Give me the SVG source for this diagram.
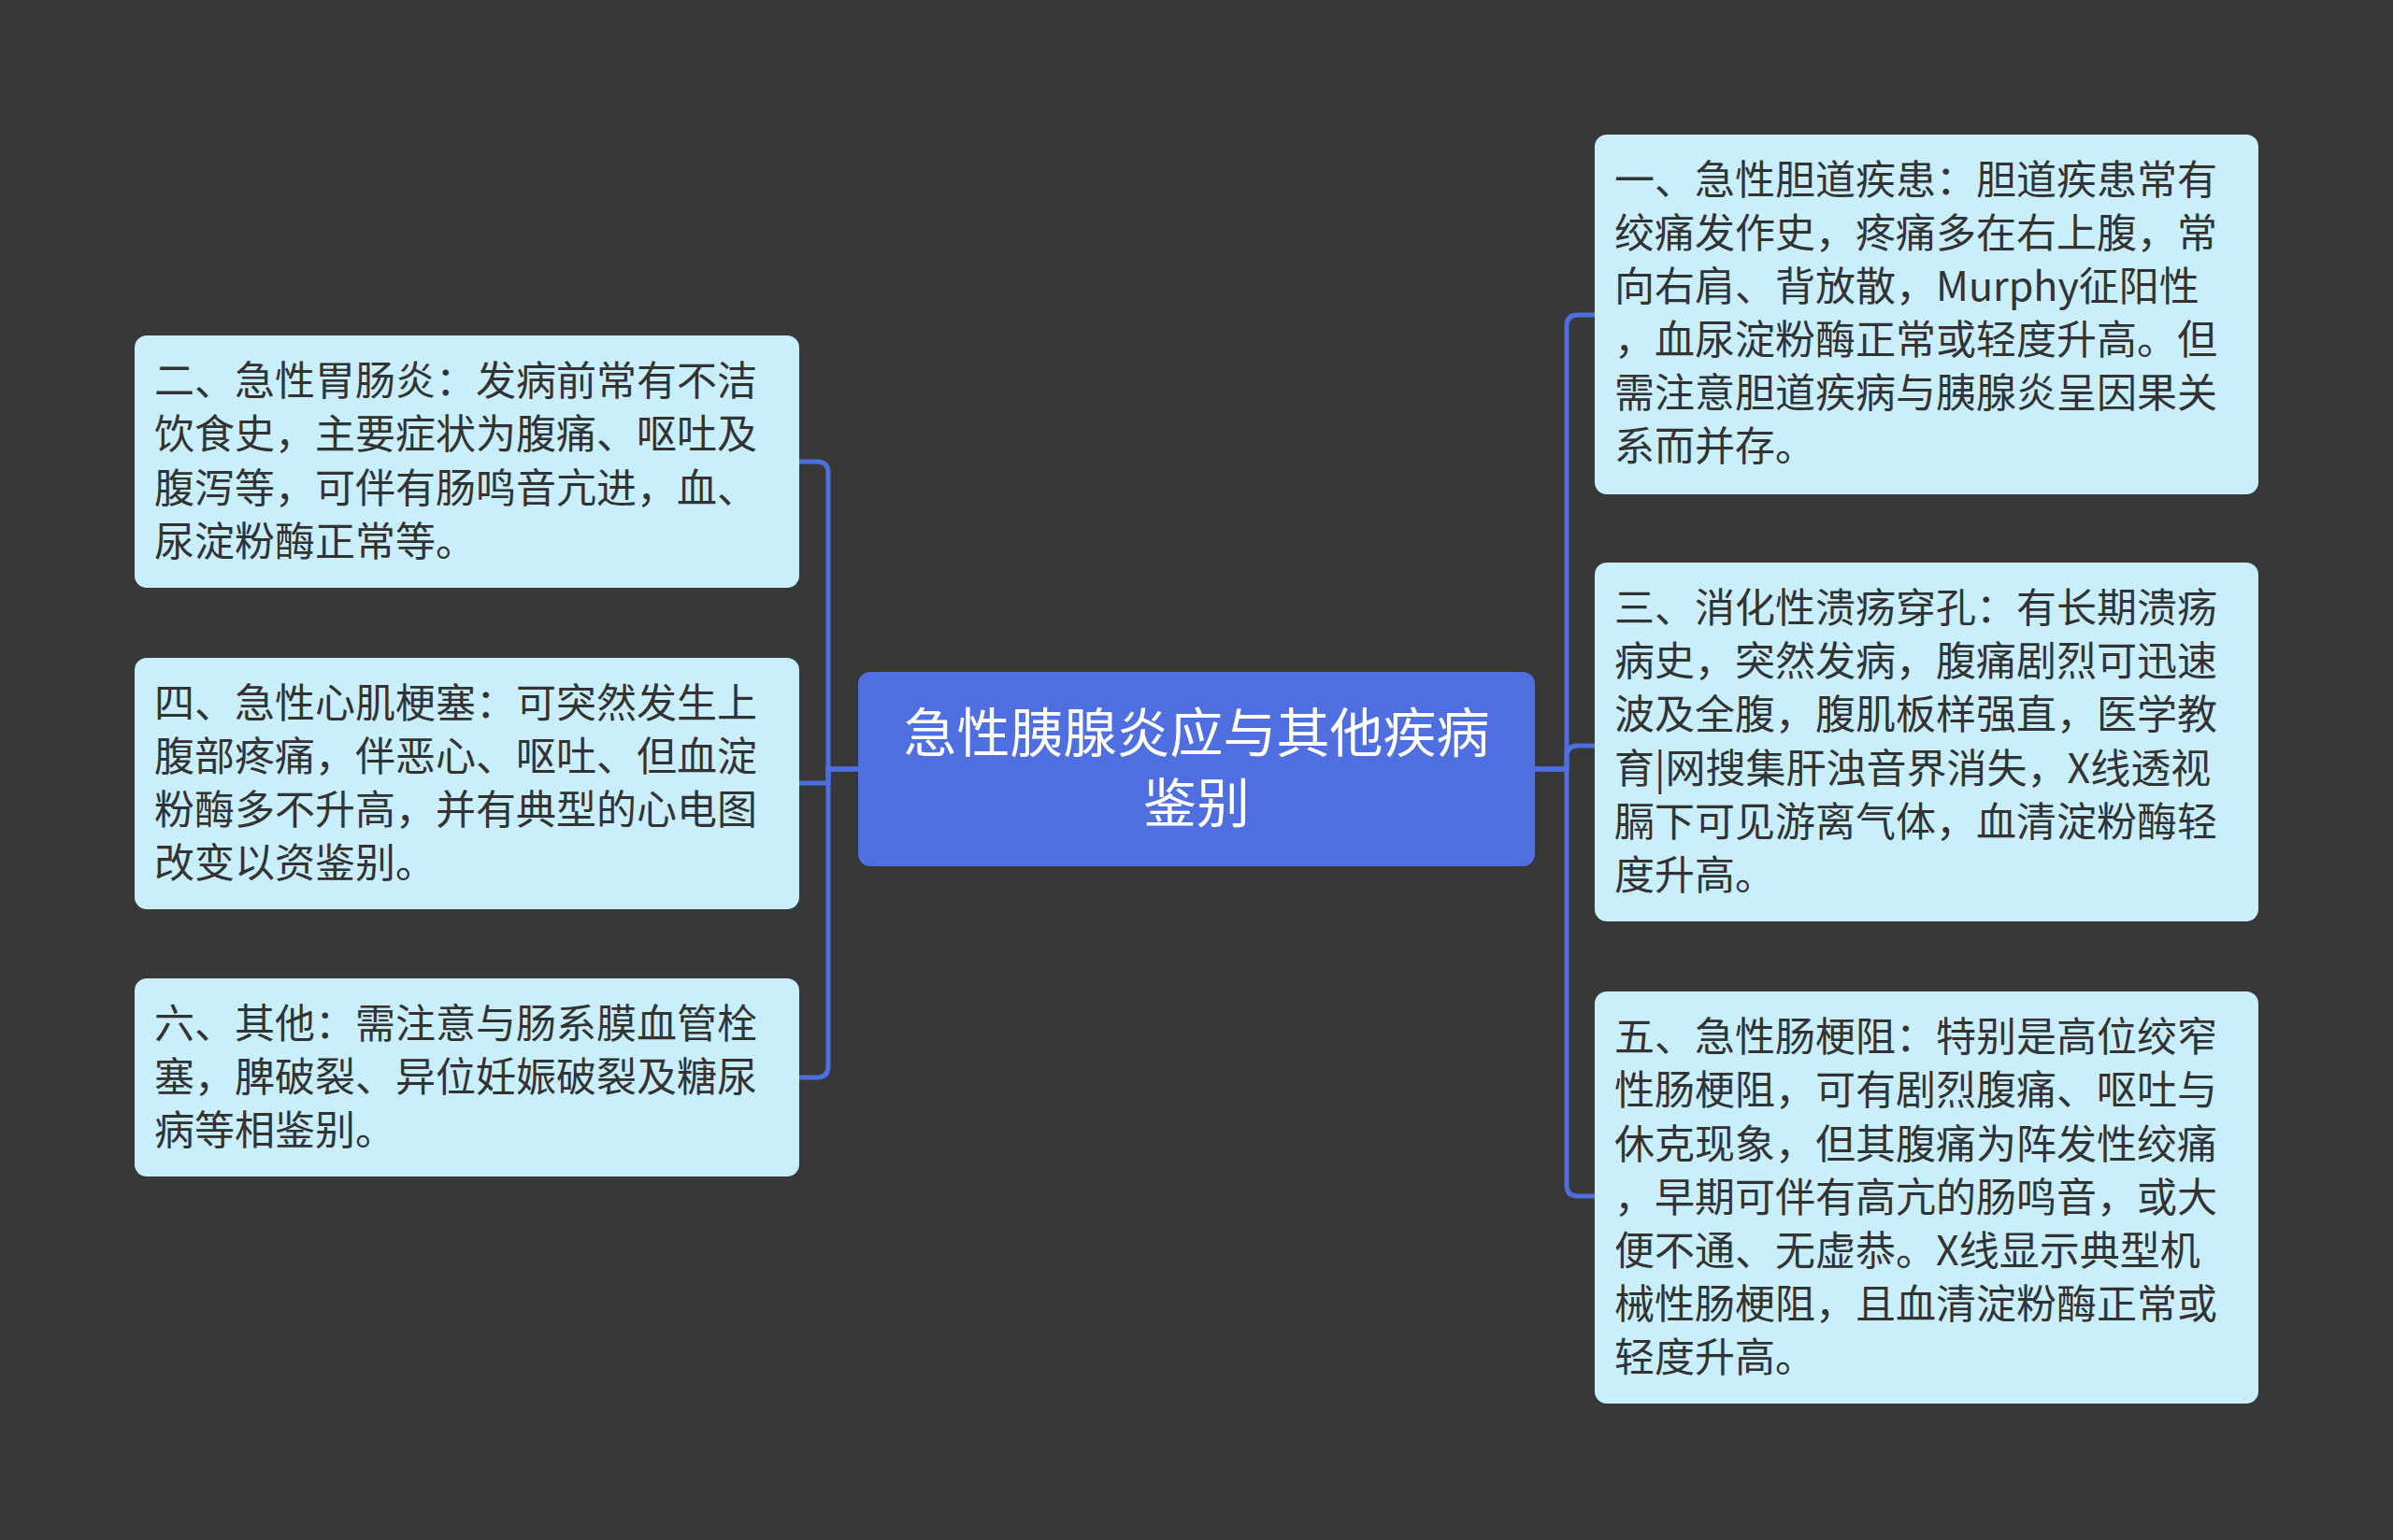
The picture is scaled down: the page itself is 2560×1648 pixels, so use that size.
<svg xmlns="http://www.w3.org/2000/svg" width="2560" height="1648" viewBox="0 0 2560 1648">
<style>
.bg{fill:#383838}
.node rect{fill:#c9eefc;stroke:none}
.node text{font-family:"Noto Sans CJK SC","Noto Sans",sans-serif;font-size:43px;fill:#333333}
.root rect{fill:#4f6fe0}
.root text{font-family:"Noto Sans CJK SC","Noto Sans",sans-serif;font-size:57px;fill:#ffffff;text-anchor:middle}
.conn path{fill:none;stroke:#4d6fe0;stroke-width:5}
</style>
<rect class="bg" x="0" y="0" width="2560" height="1648"/>
<g id="connectors" class="conn">
<path d="M918 823 H886 V506 Q886 494 874 494 H855"/>
<path d="M918 823 H886 V838 H855"/>
<path d="M918 823 H886 V1141 Q886 1153 874 1153 H855"/>
<path d="M1642 823 H1676 V349 Q1676 337 1688 337 H1708"/>
<path d="M1642 823 H1676 V810 Q1676 798 1688 798 H1708"/>
<path d="M1642 823 H1676 V1268 Q1676 1280 1688 1280 H1708"/>
</g>
<g id="root" class="root">
<rect x="918" y="719" width="724" height="208" rx="13"/>
<text x="1280" y="805">急性胰腺炎应与其他疾病</text>
<text x="1280" y="880">鉴别</text>
</g>
<g id="node2" class="node">
<rect x="144" y="359" width="711" height="270" rx="13"/>
<text x="165" y="423">二、急性胃肠炎：发病前常有不洁</text>
<text x="165" y="480">饮食史，主要症状为腹痛、呕吐及</text>
<text x="165" y="538">腹泻等，可伴有肠鸣音亢进，血、</text>
<text x="165" y="595">尿淀粉酶正常等。</text>
</g>
<g id="node4" class="node">
<rect x="144" y="704" width="711" height="269" rx="13"/>
<text x="165" y="768">四、急性心肌梗塞：可突然发生上</text>
<text x="165" y="825">腹部疼痛，伴恶心、呕吐、但血淀</text>
<text x="165" y="882">粉酶多不升高，并有典型的心电图</text>
<text x="165" y="939">改变以资鉴别。</text>
</g>
<g id="node6" class="node">
<rect x="144" y="1047" width="711" height="212" rx="13"/>
<text x="165" y="1111">六、其他：需注意与肠系膜血管栓</text>
<text x="165" y="1168">塞，脾破裂、异位妊娠破裂及糖尿</text>
<text x="165" y="1225">病等相鉴别。</text>
</g>
<g id="node1" class="node">
<rect x="1706" y="144" width="710" height="385" rx="13"/>
<text x="1727" y="208">一、急性胆道疾患：胆道疾患常有</text>
<text x="1727" y="265">绞痛发作史，疼痛多在右上腹，常</text>
<text x="1727" y="322">向右肩、背放散，Murphy征阳性</text>
<text x="1727" y="379">，血尿淀粉酶正常或轻度升高。但</text>
<text x="1727" y="436">需注意胆道疾病与胰腺炎呈因果关</text>
<text x="1727" y="493">系而并存。</text>
</g>
<g id="node3" class="node">
<rect x="1706" y="602" width="710" height="384" rx="13"/>
<text x="1727" y="666">三、消化性溃疡穿孔：有长期溃疡</text>
<text x="1727" y="723">病史，突然发病，腹痛剧烈可迅速</text>
<text x="1727" y="780">波及全腹，腹肌板样强直，医学教</text>
<text x="1727" y="838">育|网搜集肝浊音界消失，X线透视</text>
<text x="1727" y="895">膈下可见游离气体，血清淀粉酶轻</text>
<text x="1727" y="952">度升高。</text>
</g>
<g id="node5" class="node">
<rect x="1706" y="1061" width="710" height="441" rx="13"/>
<text x="1727" y="1125">五、急性肠梗阻：特别是高位绞窄</text>
<text x="1727" y="1182">性肠梗阻，可有剧烈腹痛、呕吐与</text>
<text x="1727" y="1240">休克现象，但其腹痛为阵发性绞痛</text>
<text x="1727" y="1297">，早期可伴有高亢的肠鸣音，或大</text>
<text x="1727" y="1354">便不通、无虚恭。X线显示典型机</text>
<text x="1727" y="1411">械性肠梗阻，且血清淀粉酶正常或</text>
<text x="1727" y="1468">轻度升高。</text>
</g>
</svg>
